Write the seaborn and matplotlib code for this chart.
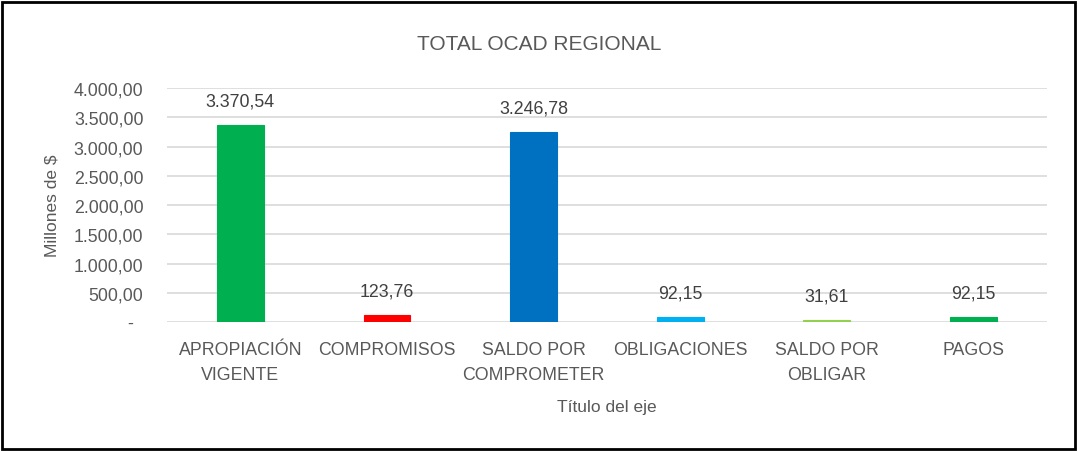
import matplotlib
matplotlib.use("Agg")
import matplotlib.pyplot as plt
import seaborn as sns
import pandas as pd

categorias = ["APROPIACIÓN\nVIGENTE", "COMPROMISOS", "SALDO POR\nCOMPROMETER",
              "OBLIGACIONES", "SALDO POR\nOBLIGAR", "PAGOS"]
valores = [3370.54, 123.76, 3246.78, 92.15, 31.61, 92.15]
colores = ["#00B050", "#FF0000", "#0070C0", "#00B0F0", "#92D050", "#00B050"]
ticks_y = [0, 500, 1000, 1500, 2000, 2500, 3000, 3500, 4000]

def fmt_es(v):
    # formato contable: miles con punto, decimales con coma, cero como guion
    if v == 0:
        return "-  "
    s = f"{v:,.2f}"
    return s.replace(",", "X").replace(".", ",").replace("X", ".")

sns.set_style("white")
plt.rcParams['font.family'] = ['Liberation Sans', 'DejaVu Sans']
gris = "#595959"

df = pd.DataFrame({"cat": categorias, "valor": valores})

fig = plt.figure(figsize=(10.78, 4.52), dpi=100)
ax = fig.add_axes([0.155, 0.2854, 0.816, 0.5176])
sns.barplot(data=df, x="cat", y="valor", hue="cat", palette=colores,
            width=0.32, legend=False, ax=ax, saturation=1)
for p, c in zip(ax.patches, colores):
    p.set_edgecolor(c)
    p.set_linewidth(0.8)
    p.set_zorder(3)

ax.set_ylim(0, 4000)
ax.set_yticks(ticks_y)
ax.set_yticklabels([fmt_es(t) for t in ticks_y], fontsize=12.8, color=gris)
ax.tick_params(axis="x", labelsize=12.8, colors=gris, length=0, pad=14)
ax.tick_params(axis="y", length=0, pad=17)
for lbl in ax.get_xticklabels():
    lbl.set_linespacing(1.55)
ax.yaxis.grid(True, color="#D9D9D9", linewidth=1.2)
ax.set_axisbelow(True)
for s in ["top", "right", "left", "bottom"]:
    ax.spines[s].set_visible(False)

for i, v in enumerate(valores):
    ax.text(i, v + 260, fmt_es(v), ha="center", va="bottom", fontsize=12.8, color="#404040")

ax.set_xlabel("Título del eje", fontsize=12.5, color=gris, labelpad=12)
ax.set_ylabel("Millones de $", fontsize=12.5, color=gris, labelpad=10)
fig.text(0.5, 0.902, "TOTAL OCAD REGIONAL", ha="center", va="center", fontsize=15, color=gris)

fig.patches.append(plt.Rectangle((0.002, 0.004), 0.995, 0.99, transform=fig.transFigure,
                                 fill=False, edgecolor="black", linewidth=2))

fig.savefig("out.png", dpi=100)
